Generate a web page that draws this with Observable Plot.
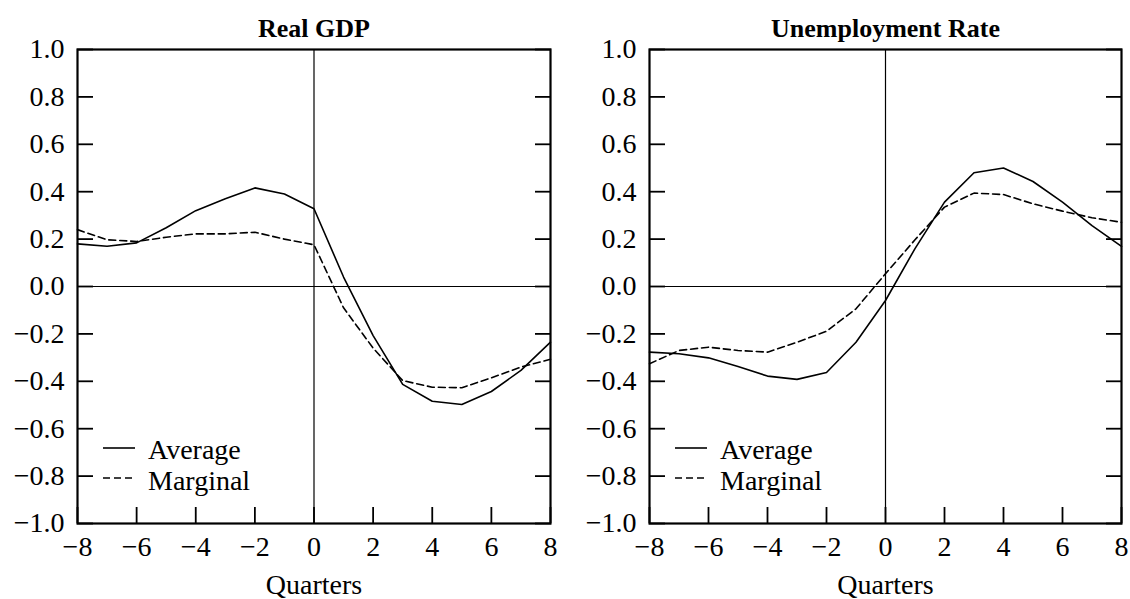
<!DOCTYPE html>
<html>
<head>
<meta charset="utf-8">
<script src="https://cdn.jsdelivr.net/npm/d3@7"></script>
<script src="https://cdn.jsdelivr.net/npm/@observablehq/plot@0.6"></script>
<style>
  body { margin: 0; background: #fff; }
  #chart { position: relative; width: 1130px; height: 599px; font-family: "Liberation Serif", "Times New Roman", serif; }
  .panel { position: absolute; top: 0; }
  .legend { position: absolute; top: 0; pointer-events: none; }
</style>
</head>
<body>
<div id="chart"></div>
<script>
// ---- data ----
const quarters = [-8, -7, -6, -5, -4, -3, -2, -1, 0, 1, 2, 3, 4, 5, 6, 7, 8];

const gdpAverage  = [0.18, 0.17, 0.184, 0.248, 0.32, 0.37, 0.416, 0.39, 0.328, 0.04, -0.207, -0.413, -0.484, -0.498, -0.443, -0.354, -0.235];
const gdpMarginal = [0.24, 0.197, 0.19, 0.208, 0.222, 0.222, 0.229, 0.2, 0.176, -0.09, -0.26, -0.397, -0.425, -0.427, -0.385, -0.34, -0.307];

const unempAverage  = [-0.277, -0.284, -0.301, -0.338, -0.378, -0.392, -0.363, -0.235, -0.059, 0.16, 0.356, 0.48, 0.50, 0.443, 0.356, 0.257, 0.169];
const unempMarginal = [-0.326, -0.27, -0.256, -0.27, -0.277, -0.235, -0.189, -0.094, 0.054, 0.197, 0.335, 0.394, 0.388, 0.349, 0.318, 0.29, 0.271];

const panelTitles = ["Real GDP", "Unemployment Rate"];
const xLabel = "Quarters";
const seriesNames = ["Average", "Marginal"];
const xTicks = [-8, -6, -4, -2, 0, 2, 4, 6, 8];
const yTicks = [-1.0, -0.8, -0.6, -0.4, -0.2, 0.0, 0.2, 0.4, 0.6, 0.8, 1.0];

// ---- layout ----
const W = 565, H = 599, MT = 49, MB = 76;
const FONT = "Liberation Serif, Times New Roman, serif";

function makePanel(title, avg, marg, marginLeft, marginRight) {
  const rows = quarters.map((q, i) => ({q, avg: avg[i], marg: marg[i]}));
  return Plot.plot({
    width: W, height: H,
    marginTop: MT, marginBottom: MB, marginLeft, marginRight,
    style: {fontFamily: FONT, fontSize: "28px", color: "#000", background: "#fff", overflow: "visible"},
    x: {domain: [-8, 8]},
    y: {domain: [-1, 1]},
    marks: [
      Plot.ruleY([0], {stroke: "#000", strokeWidth: 1.2}),
      Plot.ruleX([0], {stroke: "#000", strokeWidth: 1.2}),
      Plot.line(rows, {x: "q", y: "avg", stroke: "#000", strokeWidth: 1.6}),
      Plot.line(rows, {x: "q", y: "marg", stroke: "#000", strokeWidth: 1.6, strokeDasharray: "7,4"}),
      Plot.axisY(yTicks, {anchor: "left", tickSize: -16, text: null, label: null, strokeWidth: 1.8}),
      Plot.axisY(yTicks, {anchor: "right", tickSize: -16, text: null, label: null, strokeWidth: 1.8}),
      Plot.axisY(yTicks, {anchor: "left", tickSize: 0, tickPadding: 13, label: null, fontSize: 28, tickFormat: d3.format(".1f")}),
      Plot.axisX(xTicks, {anchor: "bottom", tickSize: -16, text: null, label: null, strokeWidth: 1.8}),
      Plot.axisX(xTicks, {anchor: "bottom", tickSize: 0, tickPadding: 13, label: null, fontSize: 28}),
      Plot.frame({stroke: "#000", strokeWidth: 2.2}),
      Plot.text([title], {frameAnchor: "top", dy: -13, lineAnchor: "bottom", fontWeight: "bold", fontSize: 26}),
      Plot.text([xLabel], {frameAnchor: "bottom", dy: 70, lineAnchor: "bottom", fontSize: 28})
    ]
  });
}

function makeLegend(frameLeft) {
  const ns = "http://www.w3.org/2000/svg";
  const svg = document.createElementNS(ns, "svg");
  svg.setAttribute("class", "legend");
  svg.setAttribute("width", 300);
  svg.setAttribute("height", H);
  svg.style.left = frameLeft + "px";
  const frameBottom = H - MB;
  const items = [
    {name: seriesNames[0], dash: null, ly: frameBottom - 75, ty: frameBottom - 64},
    {name: seriesNames[1], dash: "7,4", ly: frameBottom - 45, ty: frameBottom - 33}
  ];
  for (const it of items) {
    const line = document.createElementNS(ns, "line");
    line.setAttribute("x1", 26); line.setAttribute("x2", 58);
    line.setAttribute("y1", it.ly); line.setAttribute("y2", it.ly);
    line.setAttribute("stroke", "#000"); line.setAttribute("stroke-width", 1.6);
    if (it.dash) line.setAttribute("stroke-dasharray", it.dash);
    svg.appendChild(line);
    const t = document.createElementNS(ns, "text");
    t.setAttribute("x", 71); t.setAttribute("y", it.ty);
    t.setAttribute("font-family", FONT); t.setAttribute("font-size", 28);
    t.textContent = it.name;
    svg.appendChild(t);
  }
  return svg;
}

const chart = document.getElementById("chart");
const left = makePanel(panelTitles[0], gdpAverage, gdpMarginal, 77, 15);
left.classList.add("panel"); left.style.left = "0px";
const right = makePanel(panelTitles[1], unempAverage, unempMarginal, 84, 9);
right.classList.add("panel"); right.style.left = "565px";
chart.appendChild(left);
chart.appendChild(right);
chart.appendChild(makeLegend(77));
chart.appendChild(makeLegend(565 + 84));
</script>
</body>
</html>
